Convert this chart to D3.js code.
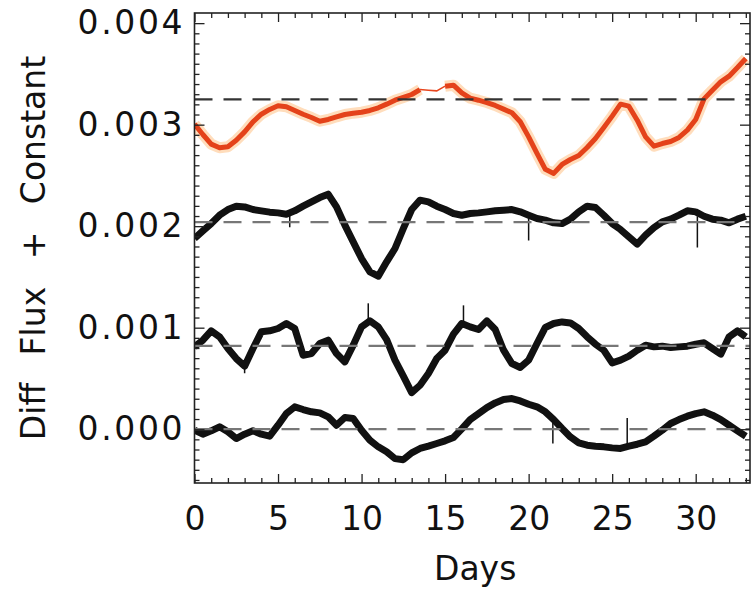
<!DOCTYPE html>
<html>
<head>
<meta charset="utf-8">
<script src="https://cdn.jsdelivr.net/npm/d3@7"></script>
<style>
  body { margin: 0; background: #fff; }
  text { font-family: "DejaVu Sans", sans-serif; fill: #111; }
</style>
</head>
<body>
<div id="chart"></div>
<script>
// sampling grid, days
const days = [0, 0.5, 1, 1.5, 2, 2.5, 3, 3.5, 4, 4.5, 5, 5.5, 6, 6.5, 7, 7.5, 8, 8.5, 9, 9.5,
  10, 10.5, 11, 11.5, 12, 12.5, 13, 13.5, 14, 14.5, 15, 15.5, 16, 16.5, 17, 17.5, 18, 18.5, 19, 19.5,
  20, 20.5, 21, 21.5, 22, 22.5, 23, 23.5, 24, 24.5, 25, 25.5, 26, 26.5, 27, 27.5, 28, 28.5, 29, 29.5,
  30, 30.5, 31, 31.5, 32, 32.5, 33];

// diff flux + constant, in units of 1e-3
const fluxA = [3.005, 2.903, 2.808, 2.772, 2.782, 2.847, 2.929, 3.028, 3.103, 3.150, 3.186, 3.176, 3.140, 3.103, 3.071, 3.034, 3.051, 3.077, 3.100, 3.113,
  3.123, 3.140, 3.166, 3.202, 3.241, 3.268, 3.297, 3.346, 3.340, 3.333, 3.379, 3.389, 3.314, 3.261, 3.241, 3.218, 3.189, 3.153, 3.117, 3.028,
  2.880, 2.716, 2.560, 2.520, 2.608, 2.657, 2.696, 2.775, 2.864, 2.972, 3.084, 3.202, 3.182, 3.044, 2.880, 2.788, 2.814, 2.834, 2.874, 2.946,
  3.051, 3.254, 3.340, 3.422, 3.478, 3.563, 3.652];
const fluxB = [1.879, 1.954, 2.026, 2.108, 2.164, 2.197, 2.190, 2.164, 2.151, 2.138, 2.131, 2.118, 2.151, 2.197, 2.240, 2.282, 2.315, 2.190, 2.010, 1.846,
  1.681, 1.550, 1.507, 1.649, 1.780, 1.977, 2.164, 2.256, 2.240, 2.197, 2.164, 2.125, 2.108, 2.125, 2.131, 2.141, 2.151, 2.157, 2.164, 2.141,
  2.108, 2.076, 2.059, 2.033, 2.026, 2.069, 2.141, 2.197, 2.184, 2.108, 2.026, 1.967, 1.895, 1.823, 1.911, 1.986, 2.043, 2.069, 2.108, 2.151,
  2.141, 2.098, 2.069, 2.059, 2.033, 2.069, 2.098];
const fluxC = [0.811, 0.877, 0.969, 0.910, 0.795, 0.696, 0.621, 0.795, 0.959, 0.969, 0.992, 1.041, 0.992, 0.729, 0.745, 0.844, 0.877, 0.745, 0.663, 0.828,
  1.008, 1.067, 1.008, 0.883, 0.680, 0.522, 0.360, 0.433, 0.548, 0.696, 0.778, 0.936, 1.041, 1.008, 0.982, 1.067, 0.982, 0.778, 0.647, 0.608,
  0.680, 0.844, 1.002, 1.041, 1.057, 1.047, 0.992, 0.910, 0.837, 0.778, 0.653, 0.680, 0.719, 0.778, 0.828, 0.811, 0.818, 0.805, 0.811, 0.818,
  0.837, 0.851, 0.795, 0.739, 0.910, 0.969, 0.910];
const fluxD = [-0.010, -0.049, -0.016, 0.023, -0.026, -0.092, -0.049, -0.016, -0.049, -0.069, 0.039, 0.154, 0.220, 0.194, 0.171, 0.161, 0.122, 0.039, 0.115, 0.105,
  -0.010, -0.108, -0.174, -0.223, -0.290, -0.300, -0.233, -0.190, -0.167, -0.141, -0.115, -0.082, 0.003, 0.095, 0.154, 0.213, 0.259, 0.292, 0.302, 0.279,
  0.246, 0.220, 0.171, 0.095, 0.007, -0.076, -0.135, -0.158, -0.167, -0.174, -0.184, -0.190, -0.167, -0.148, -0.125, -0.069, -0.010, 0.056, 0.095, 0.128,
  0.154, 0.171, 0.138, 0.095, 0.039, -0.016, -0.069];

// reference (dashed) level of each curve, 1e-3
const levels = [3.25, 2.04, 0.82, 0.0];

// single outlying points: series index, day, flux (1e-3)
const spikeSeries = [1, 1, 1, 2, 2, 2, 3, 3];
const spikeDays = [5.7, 20.0, 30.1, 3.0, 10.4, 16.1, 21.45, 25.9];
const spikeFlux = [1.99, 1.86, 1.79, 0.55, 1.24, 1.22, -0.14, 0.11];

// gap in the first curve (no data), days
const gapA = [13.6, 15.0];

const xTickLabels = ["0", "5", "10", "15", "20", "25", "30"];
const yTickLabels = ["0.000", "0.001", "0.002", "0.003", "0.004"];

const W = 752, H = 591;
const margin = { top: 13, right: 2, bottom: 108, left: 194.5 };
const width = W - margin.left - margin.right;
const height = H - margin.top - margin.bottom;

const svg = d3.select("#chart").append("svg")
  .attr("width", W)
  .attr("height", H);

const g = svg.append("g")
  .attr("transform", "translate(" + margin.left + "," + margin.top + ")");

const x = d3.scaleLinear().domain([0, 33.25]).range([0, width]);
const y = d3.scaleLinear().domain([-0.53, 4.1]).range([height, 0]);

const series = [fluxA, fluxB, fluxC, fluxD].map(v => days.map((d, i) => ({ day: d, v: v[i] })));

g.append("clipPath").attr("id", "plotclip")
  .append("rect").attr("width", width).attr("height", height);
const plot = g.append("g").attr("clip-path", "url(#plotclip)");

let line = d3.line().x(d => x(d.day)).y(d => y(d.v));

// first curve: red, with soft halo and a thin bridge across the gap
let inGap = d => d.day > gapA[0] && d.day < gapA[1];
let lineA = d3.line().defined(d => !inGap(d)).x(d => x(d.day)).y(d => y(d.v));
let bridge = series[0].filter(d => d.day >= gapA[0] - 0.1 && d.day <= gapA[1]);

plot.append("path").datum(series[0])
  .attr("d", lineA)
  .attr("fill", "none").attr("stroke", "#ffb36b").attr("stroke-opacity", 0.45)
  .attr("stroke-width", 11).attr("stroke-linejoin", "round");
plot.append("path").datum(bridge)
  .attr("d", line)
  .attr("fill", "none").attr("stroke", "#e8461e").attr("stroke-width", 1.5);
plot.append("path").datum(series[0])
  .attr("d", lineA)
  .attr("fill", "none").attr("stroke", "#e4421a")
  .attr("stroke-width", 5).attr("stroke-linejoin", "round");

// other curves: black
series.slice(1).forEach(s => {
  plot.append("path").datum(s)
    .attr("d", line)
    .attr("fill", "none").attr("stroke", "#111")
    .attr("stroke-width", 7).attr("stroke-linejoin", "round");
});

spikeDays.forEach((d, i) => {
  let s = series[spikeSeries[i]];
  let j = d3.bisector(p => p.day).left(s, d);
  let base = s[Math.min(j, s.length - 1)].v;
  plot.append("line")
    .attr("x1", x(d)).attr("x2", x(d))
    .attr("y1", y(base)).attr("y2", y(spikeFlux[i]))
    .attr("stroke", "#111").attr("stroke-width", 1.5);
});

// dashed reference levels
levels.forEach((lv, i) => {
  plot.append("line")
    .attr("x1", 0).attr("x2", width)
    .attr("y1", y(lv)).attr("y2", y(lv))
    .attr("stroke", i == 0 ? "#333" : "#777")
    .attr("stroke-width", 2.2)
    .attr("stroke-dasharray", "18,11");
});

// axes: ticks point inward on all four sides
let xMajor = xTickLabels.map(Number);
let xMinor = d3.range(0, 34, 1).filter(d => d % 5 != 0);
let yMajor = yTickLabels.map(t => +t * 1000);
let yMinor = d3.range(-5, 41, 1).map(d => d / 10).filter(d => Math.abs(d - Math.round(d)) > 0.01);

function styleAxis(sel) {
  sel.select(".domain").remove();
  sel.selectAll("line").attr("stroke", "#222").attr("stroke-width", 1.3);
}

g.append("g").attr("transform", "translate(0," + height + ")")
  .call(d3.axisBottom(x).tickValues(xMinor).tickSize(-5).tickFormat(""))
  .call(styleAxis);
g.append("g").attr("transform", "translate(0," + height + ")")
  .call(d3.axisBottom(x).tickValues(xMajor).tickSize(-9).tickPadding(24).tickFormat((d, i) => xTickLabels[i]))
  .call(styleAxis)
  .selectAll("text").attr("font-size", 33).attr("font-family", "DejaVu Sans").attr("fill", "#111");
g.append("g")
  .call(d3.axisTop(x).tickValues(xMinor).tickSize(-5).tickFormat(""))
  .call(styleAxis);
g.append("g")
  .call(d3.axisTop(x).tickValues(xMajor).tickSize(-9).tickFormat(""))
  .call(styleAxis);

g.append("g")
  .call(d3.axisLeft(y).tickValues(yMinor).tickSize(-5).tickFormat(""))
  .call(styleAxis);
g.append("g")
  .call(d3.axisLeft(y).tickValues(yMajor).tickSize(-10).tickPadding(12).tickFormat((d, i) => yTickLabels[i]))
  .call(styleAxis)
  .selectAll("text")
    .attr("font-size", 33).attr("font-family", "DejaVu Sans").attr("fill", "#111")
    .attr("textLength", 105).attr("lengthAdjust", "spacing");
g.append("g").attr("transform", "translate(" + width + ",0)")
  .call(d3.axisRight(y).tickValues(yMinor).tickSize(-5).tickFormat(""))
  .call(styleAxis);
g.append("g").attr("transform", "translate(" + width + ",0)")
  .call(d3.axisRight(y).tickValues(yMajor).tickSize(-10).tickFormat(""))
  .call(styleAxis);

// frame
g.append("rect")
  .attr("width", width).attr("height", height)
  .attr("fill", "none").attr("stroke", "#222").attr("stroke-width", 1.6);

// axis titles
svg.append("text")
  .attr("x", margin.left + x(16.8))
  .attr("y", 580)
  .attr("text-anchor", "middle")
  .attr("font-size", 33)
  .text("Days");

svg.append("text")
  .attr("transform", "translate(45,248) rotate(-90)")
  .attr("text-anchor", "middle")
  .attr("font-size", 33)
  .style("word-spacing", "17px")
  .text("Diff Flux + Constant");
</script>
</body>
</html>
